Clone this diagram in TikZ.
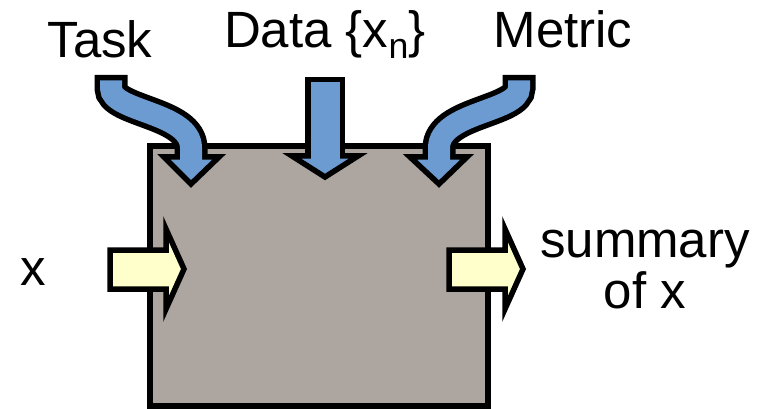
\documentclass[tikz,border=0pt]{standalone}
\usepackage{fontspec}
\setmainfont{Liberation Sans}
\usetikzlibrary{positioning}
\definecolor{boxgray}{RGB}{173,166,160}
\definecolor{flowblue}{RGB}{108,155,210}
\definecolor{flowyellow}{RGB}{255,255,204}

\begin{document}
\begin{tikzpicture}[x=1pt,y=-1pt,
  lbl/.style={font=\fontsize{51}{51}\selectfont,inner sep=0pt,anchor=base},
  outl/.style={draw=black,line width=5.5pt,line join=miter},
  rim/.style={draw=black,line width=33pt},
  core/.style={draw=flowblue,line width=22pt}]
\useasboundingbox (0,0) rectangle (763,409);
% the block
\draw[line width=6pt,fill=boxgray] (150,146) rectangle (488,406);
% blue inputs: outline first, then heads, then fill
\draw[rim] (111,75) -- (111,88) .. controls (111,112) and (191,112) .. (191,148) -- (191,158);
\draw[rim,line width=40pt] (325,77) -- (325,157);
\draw[rim] (519,75) -- (519,88) .. controls (519,112) and (439,112) .. (439,148) -- (439,158);
\draw[outl,fill=flowblue] (164,157) -- (219,157) -- (191,184) -- cycle;
\draw[outl,fill=flowblue] (292,156) -- (358,156) -- (325,177) -- cycle;
\draw[outl,fill=flowblue] (410,157) -- (467,157) -- (439,184) -- cycle;
\draw[core] (111,80.5) -- (111,88) .. controls (111,112) and (191,112) .. (191,148) -- (191,161);
\draw[core,line width=29pt] (325,82.5) -- (325,160);
\draw[core] (519,80.5) -- (519,88) .. controls (519,112) and (439,112) .. (439,148) -- (439,161);
% yellow in and out
\draw[outl,fill=flowyellow] (110,250) -- (166,250) -- (166,229) -- (184,269) -- (166,309) -- (166,289) -- (110,289) -- cycle;
\draw[outl,fill=flowyellow] (449,250) -- (505,250) -- (505,229) -- (523,269) -- (505,309) -- (505,289) -- (449,289) -- cycle;
% labels
\node[lbl] (task) at (100,58) {Task};
\node[lbl] (data) at (325,48) {Data \{x\textsubscript{n}\}};
\node[lbl] (metric) at (563,48) {Metric};
\node[lbl] (xin) at (33,285) {x};
\node[lbl,align=center] (summ) at (645,308) {summary\\of x};
\end{tikzpicture}
\end{document}
